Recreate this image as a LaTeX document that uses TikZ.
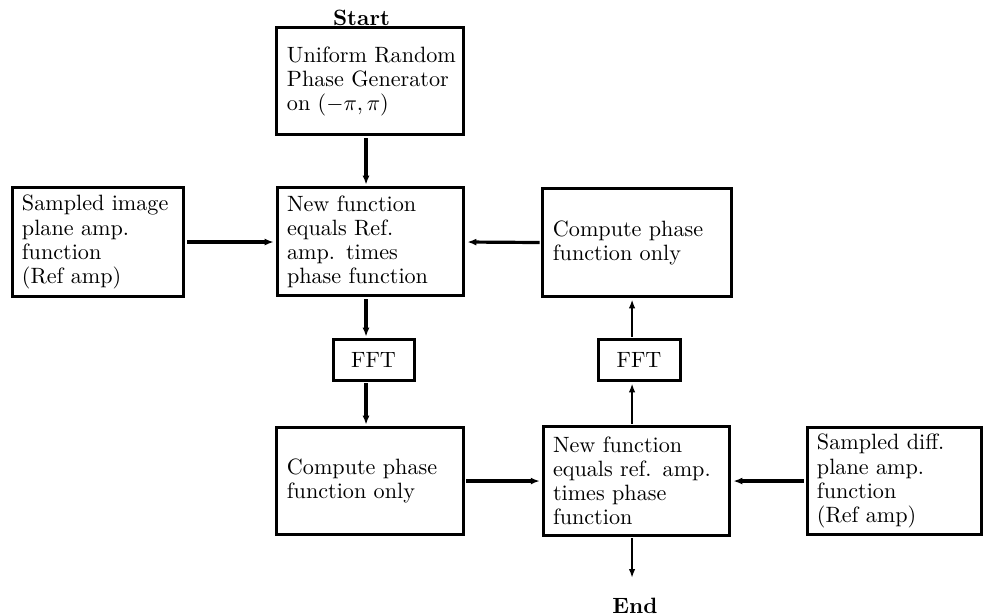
\documentclass[tikz,border=0pt]{standalone}
\usetikzlibrary{arrows.meta}

\begin{document}
\begin{tikzpicture}[
    x=0.45147pt, y=-0.45147pt, scale=2.215,
    every node/.style={transform shape},
    txt/.style={font=\fontsize{10}{10.85}\selectfont},
    box/.style={txt, draw, line width=3pt, align=left, inner xsep=4.5pt,
                inner ysep=0pt},
    fftbox/.style={txt, draw, line width=3pt, inner sep=0pt},
    heavy/.style={line width=3.2pt, -{Latex[length=9pt,width=7pt]}},
    light/.style={line width=2.2pt, -{Latex[length=9pt,width=6.5pt]}}
  ]
  \useasboundingbox (0,0) rectangle (985,615);

  % x positions of the two vertical arrow columns
  \coordinate (xL) at (366,0);
  \coordinate (xR) at (632,0);

  % start / end labels
  \node[txt, font=\fontsize{10}{10.85}\selectfont\bfseries] (start) at (361.5,17.5) {Start};
  \node[txt, font=\fontsize{10}{10.85}\selectfont\bfseries] (finish) at (635,605.5) {End};
  \coordinate (endtip) at (632,578);

  % top row
  \node[box, text width=75pt, minimum height=48.31pt] (gen) at (370,81.5)
    {\mbox{Uniform Random}\\\mbox{Phase Generator}\\\mbox{on $(-\pi,\pi)$}};

  % second row
  \node[box, text width=68.65pt, minimum height=49.21pt] (ref) at (98,242)
    {\mbox{Sampled image}\\\mbox{plane amp.}\\function\\\mbox{(Ref amp)}};
  \node[box, text width=75.4pt, minimum height=48.76pt] (mix) at (370.5,242)
    {\mbox{New function}\\\mbox{equals Ref.}\\\mbox{amp. times}\\\mbox{phase function}};
  \node[box, text width=75.9pt, minimum height=48.31pt] (phA) at (637,242.5)
    {\mbox{Compute phase}\\\mbox{function only}};

  % FFT boxes
  \node[fftbox, minimum width=36.57pt, minimum height=18.06pt] (fftA) at (373.5,360) {FFT};
  \node[fftbox, minimum width=37.02pt, minimum height=18.06pt] (fftB) at (639,360) {FFT};

  % bottom row
  \node[box, text width=75pt, minimum height=47.86pt] (phB) at (370,481)
    {\mbox{Compute phase}\\\mbox{function only}};
  \node[box, text width=75.4pt, minimum height=48.76pt] (mixB) at (636.5,481)
    {\mbox{New function}\\\mbox{equals ref. amp.}\\\mbox{times phase}\\function};
  \node[box, text width=69.56pt, minimum height=47.86pt] (diff) at (894,481)
    {\mbox{Sampled diff.}\\\mbox{plane amp.}\\function\\\mbox{(Ref amp)}};

  % left column, downwards
  \draw[heavy] (gen.south -| xL) -- (mix.north -| xL);
  \draw[heavy] (mix.south -| xL) -- (fftA.north -| xL);
  \draw[heavy] (fftA.south -| xL) -- (phB.north -| xL);

  % horizontal feeds
  \draw[heavy] (ref.east) -- (mix.west);
  \draw[heavy] (phA.west) -- (mix.west -| mix.east);
  \draw[heavy] (phB.east) -- (mixB.west);
  \draw[heavy] (diff.west) -- (mixB.east);

  % right column, upwards, and the exit
  \draw[light] (mixB.north -| xR) -- (fftB.south -| xR);
  \draw[light] (fftB.north -| xR) -- (phA.south -| xR);
  \draw[light] (mixB.south -| xR) -- (endtip);
\end{tikzpicture}
\end{document}
